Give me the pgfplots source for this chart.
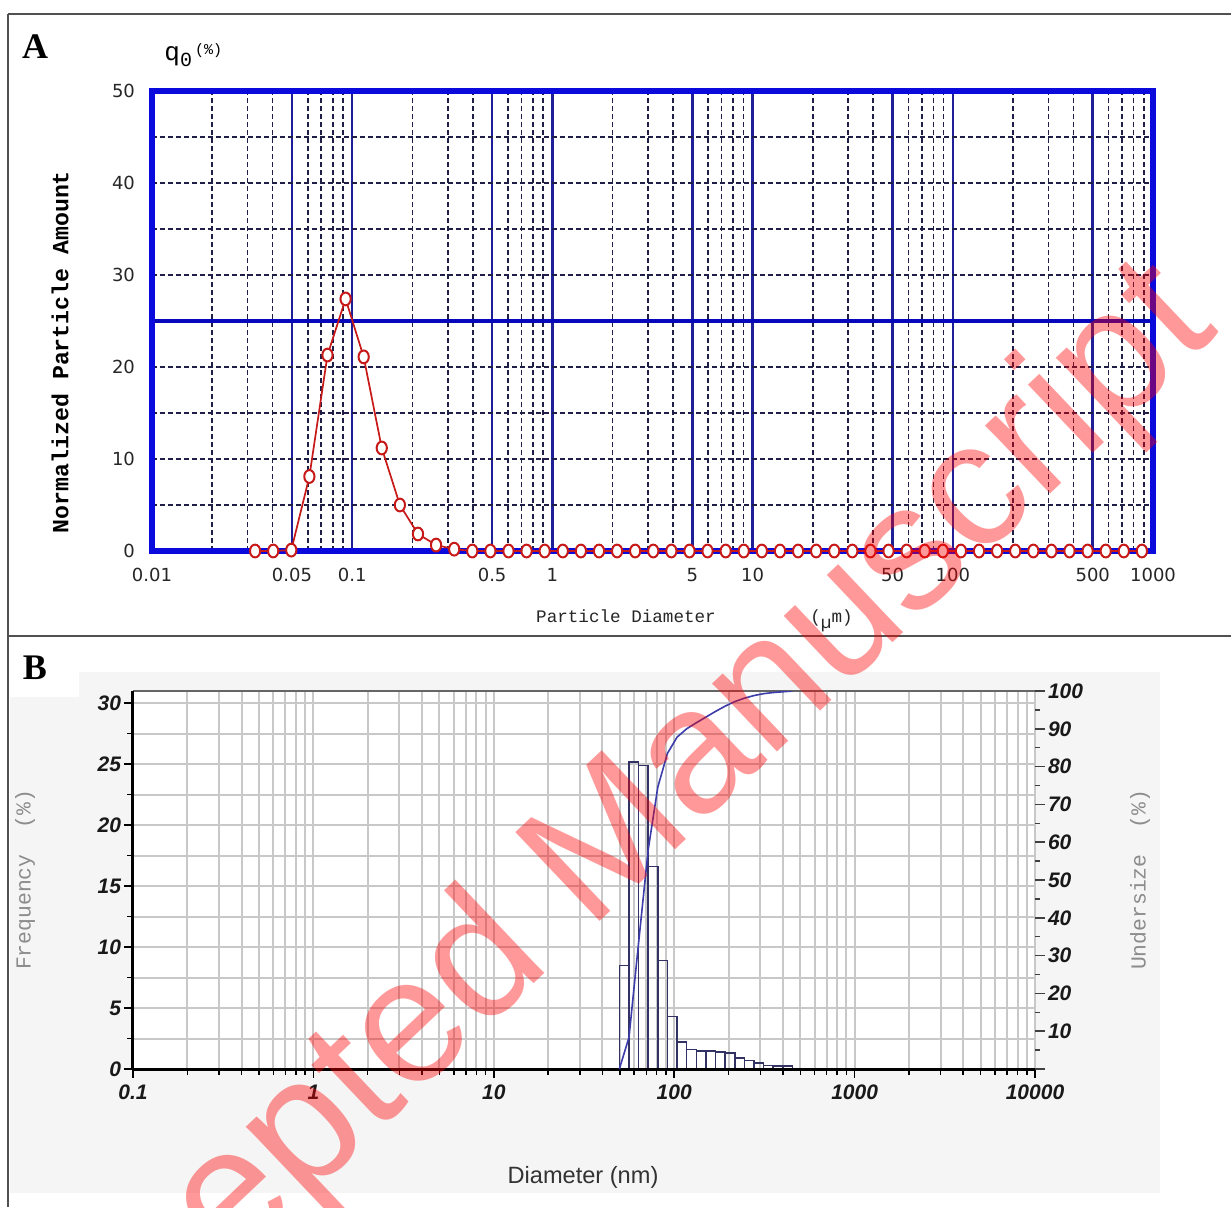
\documentclass[border=0pt]{standalone}
\usepackage{pgfplots}
\pgfplotsset{compat=1.18}
\usepackage{fontspec}
\setmainfont{Liberation Sans}
\newfontfamily\dejavu{DejaVu Sans}
\newfontfamily\lsans{Liberation Sans}
\newfontfamily\lmono{Liberation Mono}
\newfontfamily\lserif{Liberation Serif}
\definecolor{ablue}{RGB}{10,10,220}
\definecolor{anavy}{RGB}{30,30,150}
\definecolor{adash}{RGB}{30,30,70}
\definecolor{ared}{RGB}{200,25,25}
\definecolor{bgrid}{RGB}{200,200,200}
\definecolor{bbar}{RGB}{50,50,100}
\definecolor{bcurve}{RGB}{60,60,170}
\definecolor{bbg}{RGB}{245,245,245}
\definecolor{frame}{RGB}{80,80,80}
\begin{document}
\begin{tikzpicture}
\begin{scope}[x=0.5pt,y=-0.5pt]
\fill[white] (0,0) rectangle (1231,1207);
\fill[bbg] (10,672) rectangle (1160,1193);
\fill[white] (9,637) rectangle (79,697);
\draw[frame, line width=1pt] (8,14) -- (1231,14);
\draw[frame, line width=1pt] (8,14) -- (8,1207);
\draw[frame, line width=1.2pt] (8,636) -- (1231,636);
\end{scope}

% ---------------- Panel A ----------------
\begin{axis}[
  at={(76pt,-275.5pt)}, anchor=south west,
  scale only axis, width=500.5pt, height=230pt,
  xmode=log, xmin=0.01, xmax=1000, ymin=0, ymax=50,
  clip=false,
  axis line style={draw=none},
  major tick length=0pt, minor tick length=0pt,
  xtick={0.01,0.05,0.1,0.5,1,5,10,50,100,500,1000},
  xticklabels={0.01,0.05,0.1,0.5,1,5,10,50,100,500,1000},
  minor xtick={0.02,0.03,0.04,0.06,0.07,0.08,0.09,0.2,0.3,0.4,0.6,0.7,0.8,0.9,2,3,4,6,7,8,9,20,30,40,60,70,80,90,200,300,400,600,700,800,900},
  ytick={0,10,20,30,40,50},
  minor ytick={5,10,15,20,30,35,40,45},
  xmajorgrids=true, xminorgrids=true, yminorgrids=true, ymajorgrids=false,
  major grid style={anavy, line width=1.3pt, solid},
  minor grid style={adash, line width=0.8pt, dash pattern=on 2.3pt off 1.7pt},
  extra y ticks={25}, extra y tick labels={},
  extra y tick style={grid=major, major grid style={ablue!85!black, line width=1.6pt, solid}},
  ticklabel style={font=\dejavu\fontsize{9}{10}\selectfont, text=black!85},
  /pgf/number format/assume math mode=true,
  xticklabel style={yshift=-5pt},
  yticklabel style={xshift=-5pt},
]
\draw[ablue, line width=2.6pt, line join=miter] (rel axis cs:0,0) rectangle (rel axis cs:1,1);
\draw[ablue, line width=3.2pt] (rel axis cs:1,0) -- (rel axis cs:1,1);
\draw[ablue, line width=3pt] (rel axis cs:0,0) -- (rel axis cs:1,0);
\addplot[ared, line width=0.85pt, mark=*, mark size=3.2pt,
  mark options={xscale=0.8, fill=white, draw=ared, line width=1pt, solid}]
coordinates {
(0.03273,0) (0.04031,0) (0.04963,0.1) (0.06112,8.1) (0.07527,21.3)
(0.09268,27.4) (0.1141,21.1) (0.1405,11.2) (0.1731,5.0) (0.2131,1.85)
(0.2624,0.65) (0.3232,0.2) (0.3980,0) (0.4901,0) (0.6036,0)
(0.7430,0) (0.9149,0) (1.127,0) (1.388,0) (1.709,0)
(2.104,0) (2.591,0) (3.191,0) (3.929,0) (4.838,0)
(5.957,0) (7.336,0) (9.033,0) (11.12,0) (13.70,0)
(16.87,0) (20.77,0) (25.57,0) (31.49,0) (38.78,0)
(47.75,0) (58.80,0) (72.40,0) (89.17,0) (109.8,0)
(135.2,0) (166.5,0) (205.0,0) (252.5,0) (310.9,0)
(382.8,0) (471.4,0) (580.5,0) (714.8,0) (880.2,0)
};
\end{axis}

% ---------------- Panel B (left axis) ----------------
\begin{axis}[
  at={(66.5pt,-534.5pt)}, anchor=south west,
  scale only axis, width=451pt, height=189pt,
  xmode=log, xmin=0.1, xmax=10000, ymin=0, ymax=31,
  clip=false,
  axis background/.style={fill=white},
  axis line style={draw=none},
  tick pos=left, tick align=outside,
  major tick length=4.5pt, minor tick length=2.8pt,
  every tick/.style={black, line width=0.75pt},
  xtick={0.1,1,10,100,1000,10000},
  xticklabels={0.1,1,10,100,1000,10000},
  minor xtick={0.2,0.3,0.4,0.5,0.6,0.7,0.8,0.9,2,3,4,5,6,7,8,9,20,30,40,50,60,70,80,90,200,300,400,500,600,700,800,900,2000,3000,4000,5000,6000,7000,8000,9000},
  ytick={0,5,10,15,20,25,30},
  minor ytick={2.5,7.5,12.5,17.5,22.5,27.5},
  grid=both,
  major grid style={bgrid, line width=1pt},
  minor grid style={bgrid, line width=1pt},
  ticklabel style={font=\lsans\bfseries\itshape\fontsize{10.5}{12}\selectfont, text=black!90},
  /pgf/number format/assume math mode=true,
  yticklabel style={xshift=2pt},
]
\addplot[ybar interval, draw=bbar, line width=0.8pt, fill=none] coordinates {
(49.66,8.5) (56.16,25.2) (63.48,24.9) (71.76,16.6) (81.13,8.9) (91.73,4.3)
(103.7,2.2) (117.2,1.6) (132.6,1.5) (149.9,1.5) (169.4,1.4) (191.6,1.3)
(216.6,0.9) (244.8,0.7) (276.8,0.5) (313.0,0.3) (353.8,0.25) (400.0,0.25) (452.2,0)
};
\draw[black!60, line width=1pt] (rel axis cs:0,1) -- (rel axis cs:1,1);
\draw[black, line width=1.5pt] (rel axis cs:0,0) -- (rel axis cs:1,0);
\draw[black, line width=1.5pt] (rel axis cs:0,0) -- (rel axis cs:0,1);
\end{axis}

% ---------------- Panel B (right axis) ----------------
\begin{axis}[
  at={(66.5pt,-534.5pt)}, anchor=south west,
  scale only axis, width=451pt, height=189pt,
  xmode=log, xmin=0.1, xmax=10000, ymin=0, ymax=100,
  hide x axis,
  axis line style={draw=none},
  ytick pos=right, tick align=outside,
  major tick length=5pt, minor tick length=2.5pt,
  every tick/.style={black!75, line width=0.75pt},
  ytick={0,10,20,30,40,50,60,70,80,90,100},
  yticklabels={,10,20,30,40,50,60,70,80,90,100},
  minor ytick={5,15,25,35,45,55,65,75,85,95},
  ticklabel style={font=\lsans\bfseries\itshape\fontsize{10.5}{12}\selectfont, text=black!90},
  yticklabel style={xshift=-2pt},
]
\addplot[bcurve, line width=0.8pt] coordinates {
(49.66,0) (56.16,8.4) (63.48,33.4) (71.76,58.0) (81.13,74.6) (91.73,83.5)
(103.7,87.8) (117.2,90.0) (132.6,91.6) (149.9,93.1) (169.4,94.6) (191.6,96.0)
(216.6,97.2) (244.8,98.1) (276.8,98.8) (313.0,99.3) (353.8,99.6) (400.0,99.8) (452.2,100)
};
\end{axis}

\begin{scope}[x=0.5pt,y=-0.5pt]
% Panel A texts
\node[font=\lserif\bfseries\fontsize{18}{18}\selectfont, inner sep=0] at (35,47) {A};
\node[anchor=base west, inner sep=0, font=\lmono\fontsize{13}{13}\selectfont] at (164,60)
  {q\raisebox{-3pt}{\fontsize{10}{10}\selectfont 0}\hspace{1.5pt}\raisebox{3pt}{\fontsize{7.5}{8}\selectfont(\%)}};
\node[rotate=90, font=\lmono\bfseries\fontsize{11.6}{12}\selectfont, inner sep=0] at (60,352) {Normalized Particle Amount};
\node[font=\lmono\fontsize{8.8}{10}\selectfont, inner sep=0, text=black!85] at (626,616) {Particle Diameter};
\node[anchor=base west, font=\lmono\fontsize{8.8}{10}\selectfont, inner sep=0, text=black!85] at (810,622)
  {(\raisebox{-3pt}{µ}m)};
% Panel B texts
\node[font=\lserif\bfseries\fontsize{18}{18}\selectfont, inner sep=0] at (35,668) {B};
\node[rotate=90, font=\lmono\fontsize{10.7}{12}\selectfont, text=black!45, inner sep=0] at (25,880) {Frequency\ \ (\%)};
\node[rotate=90, font=\lmono\fontsize{10.7}{12}\selectfont, text=black!45, inner sep=0] at (1140,880) {Undersize\ \ (\%)};
\node[font=\lsans\fontsize{11.8}{13}\selectfont, text=black!80, inner sep=0] at (583,1177) {Diameter (nm)};
% Watermark
\begin{scope}
\clip (0,0) rectangle (1231,1207);
\node[anchor=base west, inner sep=0, rotate=43.5, text=red, opacity=0.4,
  font=\lsans\fontsize{89}{89}\selectfont] at (15,1476) {Accepted Manuscript};
\end{scope}
\end{scope}
\pgfresetboundingbox
\path[use as bounding box] (0pt,0pt) rectangle (615.5pt,-603.5pt);
\end{tikzpicture}
\end{document}
